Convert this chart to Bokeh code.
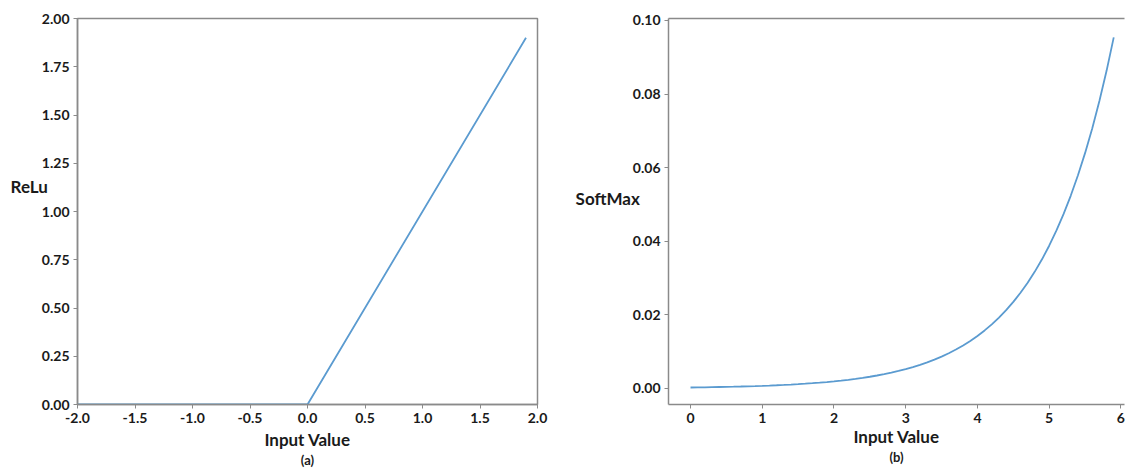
from bokeh.plotting import figure
from bokeh.layouts import row
from bokeh.models import Range1d, FixedTicker, LinearAxis, Title
from bokeh.embed import file_html
from bokeh.resources import INLINE

# ---- data ----
relu_x = [-2.0, 0.0, 1.9]
relu_y = [0.0, 0.0, 1.9]

soft_x = [0.0, 0.1, 0.2, 0.3, 0.4, 0.5, 0.6, 0.7, 0.8, 0.9,
          1.0, 1.1, 1.2, 1.3, 1.4, 1.5, 1.6, 1.7, 1.8, 1.9,
          2.0, 2.1, 2.2, 2.3, 2.4, 2.5, 2.6, 2.7, 2.8, 2.9,
          3.0, 3.1, 3.2, 3.3, 3.4, 3.5, 3.6, 3.7, 3.8, 3.9,
          4.0, 4.1, 4.2, 4.3, 4.4, 4.5, 4.6, 4.7, 4.8, 4.9,
          5.0, 5.1, 5.2, 5.3, 5.4, 5.5, 5.6, 5.7, 5.8, 5.9]
soft_y = [0.000261, 0.000289, 0.000319, 0.000353, 0.000390, 0.000431, 0.000476, 0.000526, 0.000582, 0.000643,
          0.000710, 0.000785, 0.000868, 0.000959, 0.001060, 0.001171, 0.001294, 0.001431, 0.001581, 0.001747,
          0.001931, 0.002134, 0.002359, 0.002607, 0.002881, 0.003184, 0.003519, 0.003889, 0.004298, 0.004750,
          0.005249, 0.005801, 0.006411, 0.007086, 0.007831, 0.008654, 0.009565, 0.010571, 0.011682, 0.012911,
          0.014269, 0.015769, 0.017428, 0.019261, 0.021286, 0.023525, 0.025999, 0.028733, 0.031755, 0.035095,
          0.038786, 0.042866, 0.047374, 0.052356, 0.057862, 0.063948, 0.070673, 0.078106, 0.086321, 0.095399]

relu_xticks = [-2.0, -1.5, -1.0, -0.5, 0.0, 0.5, 1.0, 1.5, 2.0]
relu_xlabels = ["-2.0", "-1.5", "-1.0", "-0.5", "0.0", "0.5", "1.0", "1.5", "2.0"]
relu_yticks = [0.0, 0.25, 0.5, 0.75, 1.0, 1.25, 1.5, 1.75, 2.0]
relu_ylabels = ["0.00", "0.25", "0.50", "0.75", "1.00", "1.25", "1.50", "1.75", "2.00"]
soft_xticks = [0, 1, 2, 3, 4, 5, 6]
soft_xlabels = ["0", "1", "2", "3", "4", "5", "6"]
soft_yticks = [0.0, 0.02, 0.04, 0.06, 0.08, 0.10]
soft_ylabels = ["0.00", "0.02", "0.04", "0.06", "0.08", "0.10"]

FONT = "Lato"
TXT = "#1a1a1a"
AX = "#8a8a8a"
LINE = "#5b9bd0"


def style_axis(ax, ticks, labels, label_standoff=1, line_height=1.2):
    ax.ticker = FixedTicker(ticks=ticks)
    ax.major_label_overrides = {t: l for t, l in zip(ticks, labels)}
    ax.major_label_text_font = FONT
    ax.major_label_text_font_style = "bold"
    ax.major_label_text_font_size = "14px"
    ax.major_label_text_color = TXT
    ax.axis_line_color = AX
    ax.axis_line_width = 1.5
    ax.major_tick_line_color = AX
    ax.major_tick_out = 4
    ax.major_tick_in = 0
    ax.minor_tick_line_color = None
    ax.major_label_standoff = 4
    ax.axis_label_text_font = FONT
    ax.axis_label_text_font_style = "bold"
    ax.axis_label_text_font_size = "17px"
    ax.axis_label_text_color = TXT
    ax.axis_label_text_line_height = line_height
    ax.axis_label_standoff = label_standoff


def add_caption(p, text):
    t = Title(text=text, align="center", text_font=FONT, text_font_style="bold",
              text_font_size="13px", text_color=TXT, text_line_height=1.0,
              offset=0, standoff=-5)
    p.add_layout(t, "below")


# ---- left: ReLu ----
p1 = figure(width=553, height=468, output_backend="svg", toolbar_location=None,
            x_range=Range1d(-2.0, 2.0), y_range=Range1d(0.0, 2.0),
            min_border_left=77, min_border_right=16, min_border_top=18, min_border_bottom=62)
p1.grid.visible = False
p1.outline_line_color = AX
p1.outline_line_width = 1.5
style_axis(p1.xaxis[0], relu_xticks, relu_xlabels, label_standoff=3, line_height=1.0)
style_axis(p1.yaxis[0], relu_yticks, relu_ylabels, label_standoff=-9)
p1.xaxis.axis_label = "Input Value"
p1.yaxis.axis_label = "ReLu\n \n "
p1.yaxis.axis_label_orientation = "horizontal"
p1.line(relu_x, relu_y, line_color=LINE, line_width=1.8)
add_caption(p1, "(a)")

# ---- right: SoftMax ----
p2 = figure(width=573, height=468, output_backend="svg", toolbar_location=None,
            x_range=Range1d(-0.307, 6.05), y_range=Range1d(-0.00436, 0.10054),
            min_border_left=115, min_border_right=2, min_border_top=18, min_border_bottom=64)
p2.grid.visible = False
p2.outline_line_color = None
style_axis(p2.xaxis[0], soft_xticks, soft_xlabels, label_standoff=0, line_height=1.0)
style_axis(p2.yaxis[0], soft_yticks, soft_ylabels, label_standoff=-10)
p2.xaxis.axis_label = "Input Value"
p2.yaxis.axis_label = "SoftMax\n "
p2.yaxis.axis_label_orientation = "horizontal"
top = LinearAxis(major_tick_line_color=None, minor_tick_line_color=None,
                 major_label_text_font_size="0px", axis_line_color=AX, axis_line_width=1.5)
top.ticker = FixedTicker(ticks=[])
p2.add_layout(top, "above")
p2.line(soft_x, soft_y, line_color=LINE, line_width=1.8)
add_caption(p2, "(b)")

layout = row(p1, p2, spacing=0)
open("out.html", "w").write(file_html(layout, INLINE))
